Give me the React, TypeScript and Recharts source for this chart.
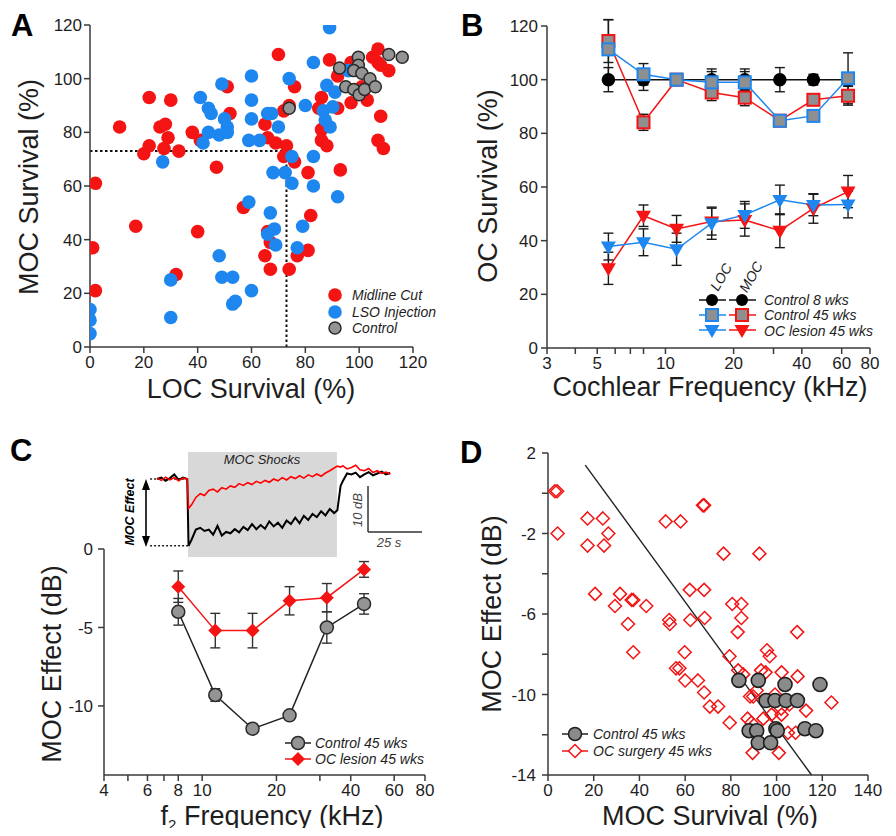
import React from 'react';
import {
  ScatterChart, Scatter, ComposedChart, LineChart, Line, XAxis, YAxis,
  ReferenceLine, ReferenceArea, ErrorBar,
} from 'recharts';

const FONT = '"Liberation Sans", Arial, Helvetica, sans-serif';
const RED = '#f41414';
const BLUE = '#1d87ef';
const GRAYFILL = '#949494';
const AXIS = '#3a3a3a';
const TXT = '#1e1e1e';

// ---------------- Panel A ----------------
const midlineCut: number[][] = [
  [2, 61], [1, 37], [2, 21], [11, 82], [17, 45], [20, 72], [22, 93], [22, 75], [26, 82], [28, 83],
  [29, 78], [27.5, 74], [30, 92], [33, 73], [32, 27], [38, 80], [41, 77], [40, 43], [47, 67], [51, 97],
  [52, 87], [57, 52], [65, 83], [66, 78], [69, 76], [70, 109], [73, 75], [72, 71], [74, 90], [72, 88],
  [76, 97], [76, 69], [66, 43], [67, 39], [65, 34], [67, 29], [74, 29], [77, 34], [81, 36], [82, 49],
  [81, 65], [86, 93], [85, 89], [86, 81], [86, 77], [88, 75], [89, 107], [93, 66], [92, 89], [92, 101],
  [97, 106], [97, 91], [100, 96], [103, 92], [105, 108], [107, 111], [107, 106], [108, 105], [111, 103],
  [108, 86], [107, 77], [109, 74], [101, 97],
];
const lsoInjection: number[][] = [
  [0, 14], [0, 10], [0, 5], [27, 69], [30, 25], [30, 11], [41, 93], [44, 89], [45, 87], [42, 76],
  [44, 80], [49, 98], [48, 79], [50, 85], [51, 82], [51, 80], [48, 34], [49, 26], [53, 26], [53, 16],
  [54, 17], [60, 101], [60, 92], [60, 85], [59, 77], [63, 77], [59, 54], [60, 21], [66, 87], [67.5, 87],
  [70, 82], [74, 100], [68, 65], [72.5, 65], [75, 71], [75, 61], [67, 50], [66, 42], [68.5, 44], [69, 38],
  [77, 37], [79, 45], [80, 90], [83, 106], [83, 71], [83, 60], [89, 119], [88, 97.5], [91, 95], [86.7, 88],
  [87.4, 84.6], [89.2, 82], [90.2, 89.5], [92, 56], [96, 103],
];
const controlA: number[][] = [
  [74, 89], [92.7, 104], [99.7, 108], [99.7, 105], [98, 103], [101, 102], [104, 100], [95, 97],
  [98, 96], [100, 94], [102, 96], [106, 97], [111, 109], [116, 108],
];
const thresholdA = 73;
const ticksA = [0, 20, 40, 60, 80, 100, 120];

// ---------------- Panel B ----------------
const freqB = [5.6, 8, 11.2, 16, 22.4, 32, 45, 64];
const control8 = [100, 100, 100, 100, 100, 100, 100, 100];
const control8Err = [4.5, 4, 2, 4, 4, 4.5, 2, 2];
const control45Loc = [111.3, 102, 100, 99, 99, 84.7, 86.5, 100.5];
const control45LocErr = [11, 4, 2, 4, 4, 2, 2, 9.5];
const control45Moc = [114.4, 84.1, 100, 95.2, 93.3, 84.7, 92.5, 94];
const control45MocErr = [8, 3, 2, 3, 3, 2, 2, 3.5];
const lesionLoc = [37.8, 39.4, 36.8, 46.5, 49.6, 55.2, 53.3, 53.5];
const lesionLocErr = [5, 5, 6, 6, 5, 5.5, 4, 5];
const lesionMoc = [29.7, 49.3, 44.4, 47.1, 47.7, 43.7, 52, 58.3];
const lesionMocErr = [6, 4, 5, 5, 6, 6.3, 5.5, 6];
const ticksBx = [3, 4, 5, 6, 7, 8, 9, 10, 20, 30, 40, 50, 60, 70, 80];
const labelsBx = [3, 5, 10, 20, 40, 60, 80];
const ticksBy = [0, 20, 40, 60, 80, 100, 120];

// ---------------- Panel C ----------------
const freqC = [8, 11.3, 16, 22.6, 32, 45.3];
const controlEffect = [-4.0, -9.3, -11.45, -10.6, -5.0, -3.5];
const controlEffectErr = [0.85, 0.4, 0.3, 0.25, 1.0, 0.65];
const lesionEffect = [-2.4, -5.2, -5.2, -3.3, -3.1, -1.3];
const lesionEffectErr = [1.0, 1.1, 1.1, 0.9, 0.9, 0.5];
const ticksCx = [4, 5, 6, 7, 8, 9, 10, 20, 30, 40, 50, 60, 70, 80];
const labelsCx = [4, 6, 8, 10, 20, 40, 60, 80];
const ticksCy = [0, -5, -10];

// inset trace (time in s, level in dB re pre-shock)
const traceTime = [
  0, 2, 4, 6, 8, 10, 12, 14, 14.6,
  16, 18, 20, 22, 24, 26, 28, 30, 32, 34, 36, 38, 40, 42, 44, 46, 48, 50,
  52, 54, 56, 58, 60, 62, 64, 66, 68, 70, 72, 74, 76, 78, 80, 82,
  83.5, 85, 86,
  88, 90, 92, 94, 96, 98, 100, 102, 104, 106, 108,
];
const traceControl = [
  0, 0.3, -0.4, 0.2, 1.0, -0.2, 0.3, 0, -14.5,
  -13.2, -11.0, -10.6, -11.3, -11.0, -12.1, -10.2, -12.3, -11.5, -11.8, -10.9, -11.6, -10.4, -11.1, -9.8, -10.9, -10.0, -10.8,
  -9.2, -10.3, -9.5, -10.6, -9.0, -9.8, -8.4, -9.6, -8.0, -8.9, -7.6, -8.3, -7.0, -7.9, -6.5, -7.4,
  -6.8, -1.5, -0.5,
  1.2, 1.0, 1.4, 0.4, 1.0, 1.5, 0.8, 1.2, 1.6, 1.0, 1.3,
];
const traceLesion = [
  0.2, -0.3, 0.4, -0.2, 0.3, -0.4, 0.2, 0, -6.4,
  -5.6, -4.0, -3.2, -3.6, -2.5, -2.2, -2.8, -1.9, -2.2, -1.5, -1.8, -1.0, -1.4, -0.8, -1.2, -0.5, -0.9, -0.3,
  -0.7, 0.0, -0.4, 0.3, -0.2, 0.5, 0.1, 0.7, 0.2, 0.9, 0.5, 1.1, 0.6, 1.3, 1.8, 2.4,
  2.8, 2.6, 2.9,
  2.2, 2.5, 3.0, 2.0, 1.8, 2.3, 1.4, 1.8, 1.2, 1.5, 1.1,
];
const shockOn = 14.35;
const shockOff = 83.3;
const effectLevel = -14.5;

// ---------------- Panel D ----------------
const ocSurgery: number[][] = [
  [3, 0.1], [4, 0.1], [4.2, -2], [17.3, -1.25], [17.3, -2.6], [24, -1.25], [24.5, -2.6], [26.4, -2],
  [20.6, -5], [29.3, -5.6], [31.5, -5], [36.6, -5.3], [37.3, -5.3], [35, -6.5], [43, -5.6], [37.3, -7.9],
  [51.5, -1.4], [58, -1.4], [67.8, -0.6], [68.3, -0.6], [53, -6.3], [53.3, -6.5], [62, -4.8], [62.3, -6.3],
  [68.3, -4.8], [68.5, -6.2], [59.8, -7.9], [56, -8.7], [57.5, -8.7], [60, -9.3], [65.6, -9.3], [68.3, -9.9],
  [70.8, -10.6], [74.4, -10.6], [76.8, -3], [92.5, -3], [80.6, -5.5], [84.6, -5.5], [84.6, -6.2], [83, -6.9],
  [79.4, -8.1], [83.2, -8.8], [85.4, -9.0], [79.5, -11.4], [109, -6.9], [95.8, -7.8], [97, -8.1], [93.2, -8.8],
  [95.2, -8.9], [102.2, -8.9], [109.2, -9.1], [124, -10.4], [112.9, -10.8], [88.4, -10.1], [89.8, -10.1],
  [91.3, -9.8], [99.3, -10], [87.3, -11.2], [89, -11.4], [94.2, -11.2], [97.8, -11], [102, -10.7],
  [102.2, -11], [105.6, -10.5], [105, -11.9], [108.3, -11.9], [89.5, -12.9], [101, -12.9],
];
const controlD: number[][] = [
  [83.5, -9.3], [92, -9.3], [103.7, -9.5], [119, -9.5], [95.4, -10.3], [99.3, -10.3], [104.1, -10.3],
  [109.1, -10.3], [88, -11.8], [91.3, -11.8], [99.7, -11.7], [100.3, -11.8], [112.4, -11.7], [117.2, -11.8],
  [92, -12.4], [97.4, -12.4],
];
const fitD = [[16.3, 1.4], [115.3, -14]];
const ticksDx = [0, 20, 40, 60, 80, 100, 120, 140];
const ticksDy = [2, 0, -2, -4, -6, -8, -10, -12, -14];
const labelsDy = [2, -2, -6, -10, -14];

// ---------------- helpers ----------------
const toXY = (a: number[][]) => a.map(([x, y]) => ({ x, y }));
const series = (xs: number[], v: number[], e: number[]) => xs.map((f, i) => ({ f, v: v[i], e: e[i] }));

const axisLine = { stroke: AXIS, strokeWidth: 1.5 };
const tickLine = { stroke: AXIS, strokeWidth: 1.5 };

const xTick = (labels: number[] | null) => (p: any) => {
  const v = p.payload.value;
  if (labels && !labels.some((l) => Math.abs(l - v) < 1e-6)) return <g />;
  return (
    <text x={p.x} y={p.y} dy="0.78em" textAnchor="middle" fill={TXT} fontSize={17} fontFamily={FONT}>{v}</text>
  );
};
const yTick = (labels: number[] | null) => (p: any) => {
  const v = p.payload.value;
  if (labels && !labels.some((l) => Math.abs(l - v) < 1e-6)) return <g />;
  return (
    <text x={p.x} y={p.y} dy="0.36em" textAnchor="end" fill={TXT} fontSize={17} fontFamily={FONT}>{v}</text>
  );
};

const circleShape = (fill: string, stroke: string, r: number, sw: number) => (p: any) => (
  <circle cx={p.cx} cy={p.cy} r={r} fill={fill} stroke={stroke} strokeWidth={sw} />
);
const hollowDiamond = (p: any) => (
  <path d={`M${p.cx},${p.cy - 6.5}L${p.cx + 6.5},${p.cy}L${p.cx},${p.cy + 6.5}L${p.cx - 6.5},${p.cy}Z`} fill="none" stroke={RED} strokeWidth={1.5} />
);
const circleDot = (fill: string, stroke: string, r: number) => (p: any) => (
  <circle key={`c${p.index}`} cx={p.cx} cy={p.cy} r={r} fill={fill} stroke={stroke} strokeWidth={1.5} />
);
const squareDot = (stroke: string) => (p: any) => (
  <rect key={`s${p.index}`} x={p.cx - 6} y={p.cy - 6} width={12} height={12} fill="#8f8f8f" stroke={stroke} strokeWidth={2} />
);
const triDot = (fill: string) => (p: any) => (
  <path key={`t${p.index}`} d={`M${p.cx - 7.5},${p.cy - 5}L${p.cx + 7.5},${p.cy - 5}L${p.cx},${p.cy + 8}Z`} fill={fill} />
);
const diamondDot = (fill: string) => (p: any) => (
  <path key={`d${p.index}`} d={`M${p.cx},${p.cy - 7}L${p.cx + 7},${p.cy}L${p.cx},${p.cy + 7}L${p.cx - 7},${p.cy}Z`} fill={fill} />
);

const errProps = { dataKey: 'e', width: 5, stroke: '#1a1a1a', strokeWidth: 1.4, direction: 'y' as const };

const legendText = { fontFamily: FONT, fontStyle: 'italic' as const, fontSize: 14, fill: TXT };

export default function App() {
  return (
    <div style={{ position: 'relative', width: 896, height: 836, margin: -8, background: '#fff', fontFamily: FONT, overflow: 'hidden' }}>
      {/* Panel A */}
      <div style={{ position: 'absolute', left: 0, top: 0 }}>
        <ScatterChart width={450} height={420} margin={{ top: 25, right: 37, bottom: 0, left: 0 }}>
          <XAxis type="number" dataKey="x" domain={[0, 120]} ticks={ticksA} allowDataOverflow height={73}
            axisLine={axisLine} tickLine={tickLine} tickSize={6} tickMargin={2} tick={xTick(null)} />
          <YAxis type="number" dataKey="y" domain={[0, 120]} ticks={ticksA} allowDataOverflow width={90}
            axisLine={axisLine} tickLine={tickLine} tickSize={6} tickMargin={2} tick={yTick(null)} />
          <ReferenceLine segment={[{ x: 0, y: thresholdA }, { x: thresholdA, y: thresholdA }]} stroke="#111" strokeWidth={2} strokeDasharray="2.5 2.5" />
          <ReferenceLine segment={[{ x: thresholdA, y: 0 }, { x: thresholdA, y: thresholdA }]} stroke="#111" strokeWidth={2} strokeDasharray="2.5 2.5" />
          <Scatter data={toXY(midlineCut)} shape={circleShape(RED, 'none', 6.8, 0)} isAnimationActive={false} />
          <Scatter data={toXY(lsoInjection)} shape={circleShape(BLUE, 'none', 6.8, 0)} isAnimationActive={false} />
          <Scatter data={toXY(controlA)} shape={circleShape(GRAYFILL, '#2a2a2a', 6, 1.5)} isAnimationActive={false} />
        </ScatterChart>
      </div>

      {/* Panel B */}
      <div style={{ position: 'absolute', left: 450, top: 0 }}>
        <ComposedChart width={446} height={420} margin={{ top: 26, right: 26, bottom: 0, left: 0 }}>
          <XAxis type="number" dataKey="f" scale="log" domain={[3, 80]} ticks={ticksBx} allowDataOverflow height={72}
            axisLine={axisLine} tickLine={tickLine} tickSize={6} tickMargin={2} tick={xTick(labelsBx)} />
          <YAxis type="number" domain={[0, 120]} ticks={ticksBy} allowDataOverflow width={97}
            axisLine={axisLine} tickLine={tickLine} tickSize={6} tickMargin={3} tick={yTick(null)} />
          <Line data={series(freqB, control8, control8Err)} dataKey="v" stroke="#111" strokeWidth={1.5} dot={circleDot('#000', '#000', 6)} isAnimationActive={false}>
            <ErrorBar {...errProps} />
          </Line>
          <Line data={series(freqB, control45Moc, control45MocErr)} dataKey="v" stroke={RED} strokeWidth={1.5} dot={squareDot(RED)} isAnimationActive={false}>
            <ErrorBar {...errProps} />
          </Line>
          <Line data={series(freqB, control45Loc, control45LocErr)} dataKey="v" stroke={BLUE} strokeWidth={1.5} dot={squareDot(BLUE)} isAnimationActive={false}>
            <ErrorBar {...errProps} />
          </Line>
          <Line data={series(freqB, lesionMoc, lesionMocErr)} dataKey="v" stroke={RED} strokeWidth={1.5} dot={triDot(RED)} isAnimationActive={false}>
            <ErrorBar {...errProps} />
          </Line>
          <Line data={series(freqB, lesionLoc, lesionLocErr)} dataKey="v" stroke={BLUE} strokeWidth={1.5} dot={triDot(BLUE)} isAnimationActive={false}>
            <ErrorBar {...errProps} />
          </Line>
        </ComposedChart>
      </div>

      {/* Panel C */}
      <div style={{ position: 'absolute', left: 0, top: 420 }}>
        <ComposedChart width={450} height={416} margin={{ top: 129, right: 25, bottom: 0, left: 0 }}>
          <XAxis type="number" dataKey="f" scale="log" domain={[4, 80]} ticks={ticksCx} allowDataOverflow height={61}
            axisLine={axisLine} tickLine={tickLine} tickSize={6} tickMargin={2} tick={xTick(labelsCx)} />
          <YAxis type="number" domain={[-14.4, 0]} ticks={ticksCy} allowDataOverflow width={104}
            axisLine={axisLine} tickLine={tickLine} tickSize={6} tickMargin={5} tick={yTick(null)} />
          <Line data={series(freqC, controlEffect, controlEffectErr)} dataKey="v" stroke="#222" strokeWidth={1.5} dot={circleDot(GRAYFILL, '#2a2a2a', 6.5)} isAnimationActive={false}>
            <ErrorBar {...errProps} stroke="#333" />
          </Line>
          <Line data={series(freqC, lesionEffect, lesionEffectErr)} dataKey="v" stroke={RED} strokeWidth={1.5} dot={diamondDot(RED)} isAnimationActive={false}>
            <ErrorBar {...errProps} stroke="#333" />
          </Line>
        </ComposedChart>
      </div>

      {/* Panel C inset */}
      <div style={{ position: 'absolute', left: 120, top: 440 }}>
        <LineChart width={310} height={120} margin={{ top: 0, right: 0, bottom: 0, left: 0 }}
          data={traceTime.map((t, i) => ({ t, c: traceControl[i], l: traceLesion[i] }))}>
          <XAxis type="number" dataKey="t" domain={[-17.13, 126.4]} allowDataOverflow hide />
          <YAxis type="number" domain={[-17.6, 8.48]} allowDataOverflow hide />
          <ReferenceArea x1={shockOn} x2={shockOff} y1={-16.96} y2={5.87} fill="#d8d8d8" fillOpacity={1} stroke="none" />
          <ReferenceLine segment={[{ x: -3.2, y: 0 }, { x: shockOn, y: 0 }]} stroke="#222" strokeWidth={1.3} strokeDasharray="2 2" />
          <ReferenceLine segment={[{ x: -3.2, y: effectLevel }, { x: shockOn, y: effectLevel }]} stroke="#222" strokeWidth={1.3} strokeDasharray="2 2" />
          <ReferenceLine segment={[{ x: 97.7, y: -1.52 }, { x: 97.7, y: -11.52 }]} stroke="#333" strokeWidth={1.5} />
          <ReferenceLine segment={[{ x: 97.7, y: -11.52 }, { x: 122.7, y: -11.52 }]} stroke="#333" strokeWidth={1.5} />
          <Line dataKey="c" stroke="#000" strokeWidth={2} dot={false} isAnimationActive={false} />
          <Line dataKey="l" stroke="#f00" strokeWidth={1.6} dot={false} isAnimationActive={false} />
        </LineChart>
      </div>

      {/* Panel D */}
      <div style={{ position: 'absolute', left: 450, top: 420 }}>
        <ScatterChart width={446} height={416} margin={{ top: 33, right: 28, bottom: 0, left: 0 }}>
          <XAxis type="number" dataKey="x" domain={[0, 140]} ticks={ticksDx} allowDataOverflow height={61}
            axisLine={axisLine} tickLine={tickLine} tickSize={6} tickMargin={2} tick={xTick(null)} />
          <YAxis type="number" dataKey="y" domain={[-14, 2]} ticks={ticksDy} allowDataOverflow width={98}
            axisLine={axisLine} tickLine={tickLine} tickSize={6} tickMargin={6} tick={yTick(labelsDy)} />
          <ReferenceLine segment={[{ x: fitD[0][0], y: fitD[0][1] }, { x: fitD[1][0], y: fitD[1][1] }]} stroke="#222" strokeWidth={1.4} />
          <Scatter data={toXY(ocSurgery)} shape={hollowDiamond} isAnimationActive={false} />
          <Scatter data={toXY(controlD)} shape={circleShape('#8a8a8a', '#1e1e1e', 7, 1.6)} isAnimationActive={false} />
        </ScatterChart>
      </div>

      {/* Annotations, titles and legends */}
      <svg width={896} height={836} style={{ position: 'absolute', left: 0, top: 0, pointerEvents: 'none' }} fontFamily={FONT}>
        {/* panel letters */}
        <text x={11} y={36} fontSize={31} fontWeight="bold" fill="#000">A</text>
        <text x={461} y={36} fontSize={31} fontWeight="bold" fill="#000">B</text>
        <text x={10} y={461} fontSize={31} fontWeight="bold" fill="#000">C</text>
        <text x={460} y={463} fontSize={31} fontWeight="bold" fill="#000">D</text>

        {/* axis titles */}
        <text x={251} y={398} fontSize={27} textAnchor="middle" fill={TXT}>LOC Survival (%)</text>
        <text transform="translate(38,187) rotate(-90)" fontSize={27} textAnchor="middle" fill={TXT}>MOC Survival (%)</text>
        <text x={710} y={396} fontSize={27} textAnchor="middle" fill={TXT}>Cochlear Frequency (kHz)</text>
        <text transform="translate(497,186) rotate(-90)" fontSize={27} textAnchor="middle" fill={TXT}>OC Survival (%)</text>
        <text x={272} y={825} fontSize={27} textAnchor="middle" fill={TXT}>f<tspan dy={5} fontSize={15}>2</tspan><tspan dy={-5}> Frequency (kHz)</tspan></text>
        <text transform="translate(61,664) rotate(-90)" fontSize={27} textAnchor="middle" fill={TXT}>MOC Effect (dB)</text>
        <text x={710} y={825} fontSize={27} textAnchor="middle" fill={TXT}>MOC Survival (%)</text>
        <text transform="translate(501,614) rotate(-90)" fontSize={27} textAnchor="middle" fill={TXT}>MOC Effect (dB)</text>

        {/* legend A */}
        <circle cx={335} cy={295} r={6.8} fill={RED} />
        <circle cx={335} cy={312} r={6.8} fill={BLUE} />
        <circle cx={335} cy={328} r={6} fill={GRAYFILL} stroke="#2a2a2a" strokeWidth={1.5} />
        <text x={352} y={300} {...legendText}>Midline Cut</text>
        <text x={352} y={317} {...legendText}>LSO Injection</text>
        <text x={352} y={333} {...legendText}>Control</text>

        {/* legend B */}
        <text transform="translate(721,277) rotate(-60)" textAnchor="middle" dy="0.35em" {...legendText}>LOC</text>
        <text transform="translate(751,277) rotate(-60)" textAnchor="middle" dy="0.35em" {...legendText}>MOC</text>
        <line x1={699} x2={726} y1={300} y2={300} stroke="#111" strokeWidth={1.5} />
        <line x1={729} x2={756} y1={300} y2={300} stroke="#111" strokeWidth={1.5} />
        <circle cx={712} cy={300} r={6} fill="#000" />
        <circle cx={742} cy={300} r={6} fill="#000" />
        <line x1={699} x2={726} y1={315} y2={315} stroke={BLUE} strokeWidth={1.5} />
        <line x1={729} x2={756} y1={315} y2={315} stroke={RED} strokeWidth={1.5} />
        <rect x={706} y={309} width={12} height={12} fill="#8f8f8f" stroke={BLUE} strokeWidth={2} />
        <rect x={736} y={309} width={12} height={12} fill="#8f8f8f" stroke={RED} strokeWidth={2} />
        <line x1={699} x2={726} y1={330} y2={330} stroke={BLUE} strokeWidth={1.5} />
        <line x1={729} x2={756} y1={330} y2={330} stroke={RED} strokeWidth={1.5} />
        <path d="M704.5,325L719.5,325L712,338Z" fill={BLUE} />
        <path d="M734.5,325L749.5,325L742,338Z" fill={RED} />
        <text x={764} y={305} {...legendText}>Control 8 wks</text>
        <text x={764} y={320} {...legendText}>Control 45 wks</text>
        <text x={764} y={336} {...legendText}>OC lesion 45 wks</text>

        {/* legend C */}
        <line x1={285} x2={311} y1={743} y2={743} stroke="#222" strokeWidth={1.5} />
        <circle cx={298} cy={743} r={6.5} fill={GRAYFILL} stroke="#2a2a2a" strokeWidth={1.5} />
        <line x1={285} x2={311} y1={759} y2={759} stroke={RED} strokeWidth={1.5} />
        <path d="M298,752L305,759L298,766L291,759Z" fill={RED} />
        <text x={315} y={748} {...legendText}>Control 45 wks</text>
        <text x={315} y={764} {...legendText}>OC lesion 45 wks</text>

        {/* legend D */}
        <line x1={562} x2={588} y1={734} y2={734} stroke="#222" strokeWidth={1.5} />
        <circle cx={575} cy={734} r={6.5} fill="#8a8a8a" stroke="#1e1e1e" strokeWidth={1.5} />
        <line x1={562} x2={588} y1={751} y2={751} stroke={RED} strokeWidth={1.5} />
        <path d="M575,744.5L581.5,751L575,757.5L568.5,751Z" fill="#fff" stroke={RED} strokeWidth={1.5} />
        <text x={593} y={739} {...legendText}>Control 45 wks</text>
        <text x={593} y={756} {...legendText}>OC surgery 45 wks</text>

        {/* inset annotations */}
        <text x={262} y={464} textAnchor="middle" fontSize={13} fontStyle="italic" fill="#222">MOC Shocks</text>
        <line x1={146} x2={146} y1={487} y2={538} stroke="#000" strokeWidth={1.6} />
        <path d="M146,479L142,490L150,490Z" fill="#000" />
        <path d="M146,547L142,536L150,536Z" fill="#000" />
        <text transform="translate(134,512) rotate(-90)" textAnchor="middle" fontSize={12.5} fontWeight="bold" fontStyle="italic" fill="#000">MOC Effect</text>
        <text transform="translate(362,510) rotate(-90)" textAnchor="middle" fontSize={13} fontStyle="italic" fill="#444">10 dB</text>
        <text x={389} y={547} textAnchor="middle" fontSize={13} fontStyle="italic" fill="#444">25 s</text>
      </svg>
    </div>
  );
}
